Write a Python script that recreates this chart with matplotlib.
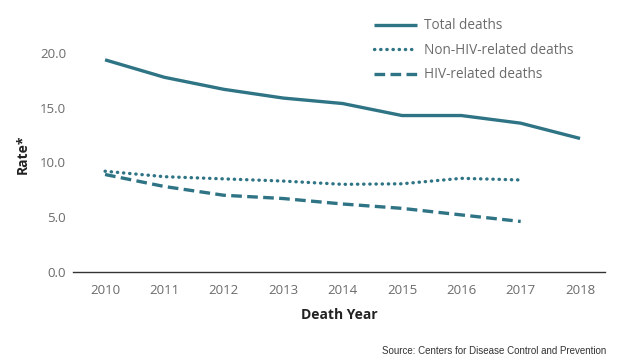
import matplotlib
matplotlib.use("Agg")
import matplotlib.pyplot as plt

years = [2010, 2011, 2012, 2013, 2014, 2015, 2016, 2017, 2018]
total_deaths = [19.4, 17.8, 16.7, 15.9, 15.4, 14.3, 14.3, 13.6, 12.2]
non_hiv_years = [2010, 2011, 2012, 2013, 2014, 2015, 2016, 2017]
non_hiv_deaths = [9.2, 8.7, 8.5, 8.3, 8.0, 8.05, 8.55, 8.4]
hiv_years = [2010, 2011, 2012, 2013, 2014, 2015, 2016, 2017]
hiv_deaths = [8.9, 7.8, 7.0, 6.7, 6.2, 5.8, 5.2, 4.6]
yticks = [0.0, 5.0, 10.0, 15.0, 20.0]

teal = "#2f7485"
gray = "#6b6b6b"
font = ["Open Sans", "DejaVu Sans"]
plt.rcParams['font.family'] = font

fig = plt.figure(figsize=(6.22, 3.64), dpi=100)
ax = fig.add_axes([73/622, 1-271.7/364, (605-73)/622, (271.7-36.9)/364])

ax.plot(years, total_deaths, color=teal, lw=2.4, solid_capstyle='butt', label="Total deaths")
ax.plot(non_hiv_years, non_hiv_deaths, color=teal, lw=2.4, linestyle=(0, (0.1, 1.75)),
        dash_capstyle='round', label="Non-HIV-related deaths")
ax.plot(hiv_years, hiv_deaths, color=teal, lw=2.4, linestyle=(0, (3.2, 1.6)),
        dash_capstyle='butt', label="HIV-related deaths")

ax.set_xlim(2009.46, 2018.42)
ax.set_ylim(0, 21.5)
ax.set_xticks(years)
ax.set_xticklabels([str(y) for y in years])
ax.set_yticks(yticks)
ax.set_yticklabels([f"{v:.1f}" for v in yticks])
ax.tick_params(axis='both', length=0, colors=gray, labelsize=9.5)
ax.tick_params(axis='x', pad=9)
ax.tick_params(axis='y', pad=5)
for s in ['top', 'right', 'left']:
    ax.spines[s].set_visible(False)
ax.spines['bottom'].set_color("#333333")
ax.spines['bottom'].set_linewidth(1.0)

ax.set_xlabel("Death Year", fontsize=10, fontweight='bold', color="#222222", labelpad=8)
ax.set_ylabel("Rate*", fontsize=10, fontweight='bold', color="#222222", labelpad=7)

leg = fig.legend(loc='upper left', bbox_to_anchor=(369/622, 1-13/364), frameon=False,
                 fontsize=9.8, handlelength=3.1, handletextpad=0.55, labelspacing=0.7,
                 borderaxespad=0)
for t in leg.get_texts():
    t.set_color(gray)

fig.text(606/622, 1-351/364, "Source: Centers for Disease Control and Prevention",
         ha='right', va='center', fontsize=7, color="#333333", family=["Liberation Sans", "DejaVu Sans"])

fig.savefig("out.png", dpi=100)
